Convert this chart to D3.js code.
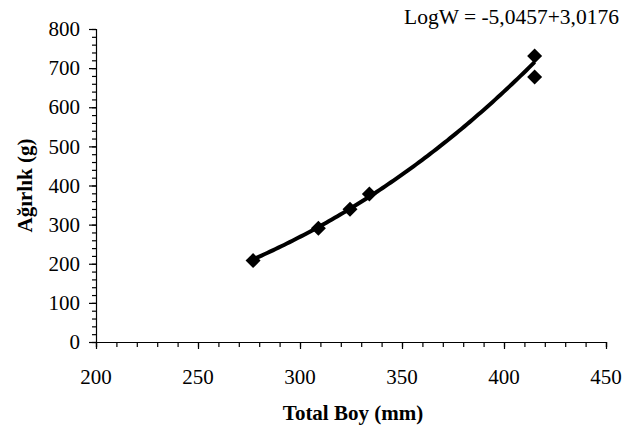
<!DOCTYPE html>
<html>
<head>
<meta charset="utf-8">
<script src="https://cdn.jsdelivr.net/npm/d3@7"></script>
<style>
  html, body { margin: 0; padding: 0; background: #fff; }
  svg { display: block; }
  svg text { font-family: 'Liberation Serif', 'Times New Roman', Times, serif; }
</style>
</head>
<body>
<svg id="chart" width="636" height="434"></svg>
<script>
// ---- data ----
const totalBoy = [277, 309, 324.5, 334, 415, 415];   // Total Boy (mm)
const agirlik  = [208, 291, 339, 378, 731, 677];      // Ağırlık (g)
const xTicks = [200, 250, 300, 350, 400, 450];
const yTicks = [0, 100, 200, 300, 400, 500, 600, 700, 800];
const logA = -5.0457, powB = 3.0176;                  // trendline LogW = logA + powB·LogL
const equationText = "LogW = -5,0457+3,0176";

// ---- layout ----
const FONT = "'Liberation Serif', 'Times New Roman', Times, serif";
const svg = d3.select("#chart");
const pLeft = 96, pRight = 606, pTop = 29, pBottom = 342;

const x = d3.scaleLinear().domain([200, 450]).range([pLeft, pRight]);
const y = d3.scaleLinear().domain([0, 800]).range([pBottom, pTop]);

const g = svg.append("g");

// minor ticks
const xMinor = d3.range(200, 451, 10);
const yMinor = d3.range(0, 801, 20);

g.append("g").attr("transform", `translate(0,${pBottom})`)
  .call(d3.axisBottom(x).tickValues(xMinor).tickSize(5).tickFormat(""));
g.append("g").attr("transform", `translate(${pLeft},0)`)
  .call(d3.axisLeft(y).tickValues(yMinor).tickSize(4).tickFormat(""));

// major ticks
g.append("g").attr("transform", `translate(0,${pBottom})`)
  .call(d3.axisBottom(x).tickValues(xTicks).tickSize(7).tickFormat(""))
  .call(s => s.select(".domain").remove());
g.append("g").attr("transform", `translate(${pLeft},0)`)
  .call(d3.axisLeft(y).tickValues(yTicks).tickSize(7).tickFormat(""))
  .call(s => s.select(".domain").remove());

svg.selectAll(".domain").attr("stroke", "#000").attr("stroke-width", 1.2);
svg.selectAll(".tick line").attr("stroke", "#000").attr("stroke-width", 1.2);

// tick labels
g.selectAll(".xlab").data(xTicks).enter().append("text")
  .attr("x", d => x(d)).attr("y", pBottom + 42)
  .attr("font-family", FONT)
  .attr("text-anchor", "middle").attr("font-size", 21).text(d => d);
g.selectAll(".ylab").data(yTicks).enter().append("text")
  .attr("x", pLeft - 16).attr("y", d => y(d)).attr("dy", "0.34em")
  .attr("font-family", FONT)
  .attr("text-anchor", "end").attr("font-size", 21).text(d => d);

// axis titles
svg.append("text").attr("x", (pLeft + pRight) / 2 + 2).attr("y", 420)
  .attr("font-family", FONT)
  .attr("text-anchor", "middle").attr("font-size", 21).attr("font-weight", "bold")
  .text("Total Boy (mm)");
svg.append("text").attr("transform", `translate(32,${(pTop + pBottom) / 2}) rotate(-90)`)
  .attr("font-family", FONT)
  .attr("text-anchor", "middle").attr("font-size", 21).attr("font-weight", "bold")
  .text("Ağırlık (g)");

// trendline (power fit from equation)
const xMin = d3.min(totalBoy), xMax = d3.max(totalBoy);
const trend = d3.range(0, 101).map(i => {
  const L = xMin + (xMax - xMin) * i / 100;
  return [L, Math.pow(10, logA + powB * Math.log10(L))];
});
g.append("path").datum(trend)
  .attr("fill", "none").attr("stroke", "#000").attr("stroke-width", 4)
  .attr("d", d3.line().x(d => x(d[0])).y(d => y(d[1])));

// markers
const r = 7.5;
g.selectAll(".pt").data(totalBoy.map((v, i) => [v, agirlik[i]])).enter().append("path")
  .attr("d", d => `M${x(d[0])},${y(d[1]) - r}L${x(d[0]) + r},${y(d[1])}L${x(d[0])},${y(d[1]) + r}L${x(d[0]) - r},${y(d[1])}Z`)
  .attr("fill", "#000");

// equation
svg.append("text").attr("x", 404).attr("y", 24).attr("font-size", 21.5)
  .attr("font-family", FONT)
  .text(equationText);
</script>
</body>
</html>
